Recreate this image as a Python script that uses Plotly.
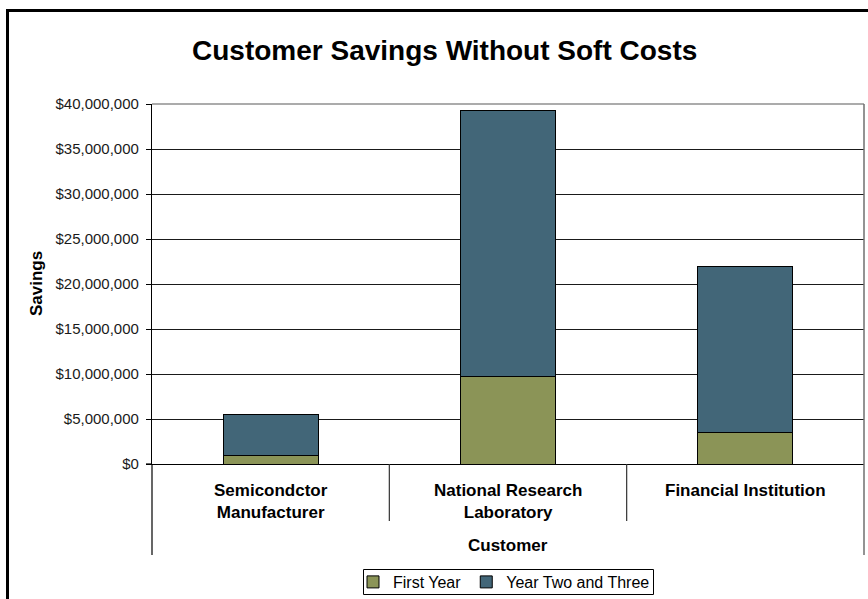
import plotly.graph_objects as go

categories = ["Semicondctor<br>Manufacturer", "National Research<br>Laboratory", "Financial Institution"]
first_year = [1.0e6, 9.7e6, 3.5e6]
year_two_three = [4.45e6, 29.55e6, 18.4e6]
series_names = ["First Year", "Year Two and Three"]
tick_vals = [0, 5e6, 10e6, 15e6, 20e6, 25e6, 30e6, 35e6, 40e6]
tick_text = ["$0", "$5,000,000", "$10,000,000", "$15,000,000", "$20,000,000",
             "$25,000,000", "$30,000,000", "$35,000,000", "$40,000,000"]

FONT = "Arial, Liberation Sans, sans-serif"
W, H = 868, 599
L, R, T, B = 152, 4, 104, 135
PW, PH = W - L - R, H - T - B

def px(xp):
    return (xp - L) / PW

def py(yp):
    return (H - B - yp) / PH

x_idx = list(range(len(categories)))

fig = go.Figure()
fig.add_trace(go.Bar(x=x_idx, y=first_year, name=series_names[0],
                     marker=dict(color="#8B9457", line=dict(color="black", width=1)),
                     width=0.4))
fig.add_trace(go.Bar(x=x_idx, y=year_two_three, name=series_names[1],
                     marker=dict(color="#426678", line=dict(color="black", width=1)),
                     width=0.4))

shapes = []
# outer chart frame
shapes.append(dict(type="rect", xref="paper", yref="paper",
                   x0=px(7.5), x1=px(900), y0=py(640), y1=py(10.5),
                   line=dict(color="black", width=3), fillcolor="rgba(0,0,0,0)", layer="below"))
# plot area top/right border
shapes.append(dict(type="line", xref="paper", yref="paper", x0=0, x1=1, y0=1, y1=1,
                   line=dict(color="#8f8f8f", width=1.5)))
shapes.append(dict(type="line", xref="paper", yref="paper", x0=1, x1=1, y0=py(555), y1=1,
                   line=dict(color="#6f6f6f", width=1.5)))
# x-axis left extension
shapes.append(dict(type="line", xref="paper", yref="paper", x0=px(146), x1=0, y0=0, y1=0,
                   line=dict(color="black", width=1.2)))
# category separators
shapes.append(dict(type="line", xref="paper", yref="paper", x0=0, x1=0, y0=py(555), y1=0,
                   line=dict(color="black", width=1.2)))
for k in (1, 2):
    shapes.append(dict(type="line", xref="paper", yref="paper", x0=k / 3, x1=k / 3,
                       y0=py(521), y1=0, line=dict(color="#333333", width=1.2)))
# legend box
shapes.append(dict(type="rect", xref="paper", yref="paper",
                   x0=px(363.5), x1=px(653.5), y0=py(594.5), y1=py(569.5),
                   line=dict(color="black", width=1), fillcolor="rgba(0,0,0,0)"))

annotations = []
for i, c in enumerate(categories):
    annotations.append(dict(x=i, xref="x", y=py(479), yref="paper", yanchor="top",
                            xanchor="center", text="<b>%s</b>" % c, showarrow=False,
                            font=dict(family=FONT, size=17, color="black")))
annotations.append(dict(x=0.5, xref="paper", y=py(545), yref="paper", yanchor="middle",
                        xanchor="center", text="<b>Customer</b>",
                        showarrow=False, font=dict(family=FONT, size=17, color="black")))
annotations.append(dict(x=px(36), xref="paper", y=py(284), yref="paper", xanchor="center",
                        yanchor="middle", text="<b>Savings</b>",
                        textangle=-90, showarrow=False,
                        font=dict(family=FONT, size=17, color="black")))
annotations.append(dict(x=px(444), xref="paper", y=py(50), yref="paper",
                        xanchor="center", yanchor="middle",
                        text="<b>Customer Savings Without Soft Costs</b>",
                        showarrow=False, font=dict(family=FONT, size=28, color="black")))

fig.update_layout(
    width=W, height=H,
    margin=dict(l=L, r=R, t=T, b=B, autoexpand=False),
    paper_bgcolor="white", plot_bgcolor="white",
    barmode="stack",
    font=dict(family=FONT, color="black"),
    showlegend=True,
    legend=dict(orientation="h", x=px(504), xanchor="center", y=py(565), yanchor="top",
                borderwidth=0, bgcolor="rgba(0,0,0,0)", font=dict(family=FONT, size=16),
                itemwidth=30, traceorder="normal"),
    xaxis=dict(range=[-0.5, 2.5], showticklabels=False, showgrid=False, zeroline=False,
               showline=True, linecolor="black", linewidth=1.2, ticks=""),
    yaxis=dict(range=[0, 40e6], tickvals=tick_vals, ticktext=tick_text,
               showgrid=True, gridcolor="#1a1a1a", gridwidth=1, zeroline=False,
               showline=True, linecolor="black", linewidth=1.2,
               ticks="outside", ticklen=5, tickcolor="black", ticklabelstandoff=4,
               tickfont=dict(family=FONT, size=15, color="#1a1a1a")),
    shapes=shapes, annotations=annotations,
)

fig.write_html("out.html", config={"displayModeBar": False},
               post_script="document.body.style.margin='0';document.body.style.overflow='hidden';")
